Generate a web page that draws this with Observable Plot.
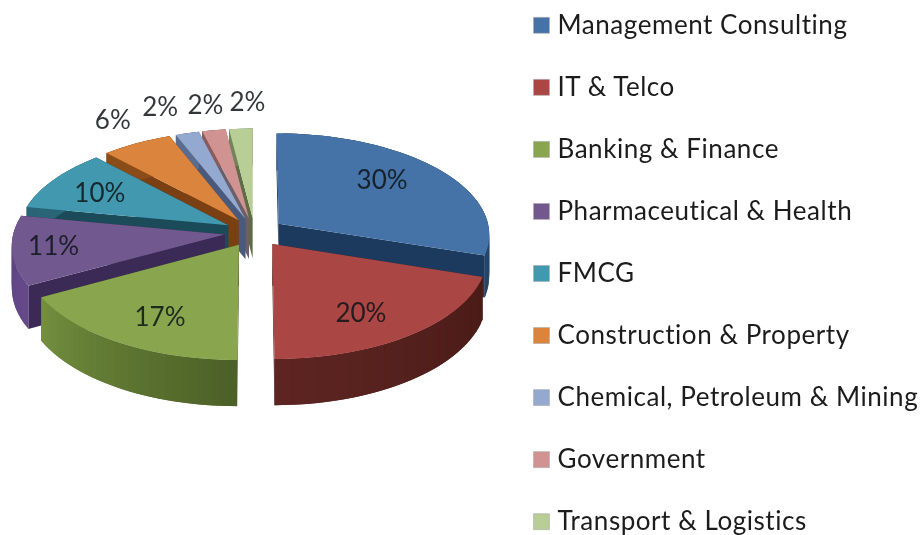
<!DOCTYPE html>
<html>
<head>
<meta charset="utf-8">
<script src="https://cdn.jsdelivr.net/npm/d3@7"></script>
<script src="https://cdn.jsdelivr.net/npm/@observablehq/plot@0.6"></script>
<style>
html,body{margin:0;padding:0;background:#fff;}
svg{display:block;filter:blur(0.45px);}
.legend-name text{letter-spacing:0.55px;}
</style>
</head>
<body>
<div id="chart"></div>
<script>
const categories = ["Management Consulting","IT & Telco","Banking & Finance","Pharmaceutical & Health","FMCG","Construction & Property","Chemical, Petroleum & Mining","Government","Transport & Logistics"];
const shares = [30,20,17,11,10,6,2,2,2];
const topColors = ["#4572a7","#aa4643","#89a54e","#71588f","#4198af","#db843d","#93a9cf","#d19392","#b9cd96"];
const cutColors = ["#1b3a5e","#5a201e","#46582a","#3a2a55","#1b4a58","#7a3f12","#4a5a7c","#6c5f68","#5f6b42"];
const rimFrom = ["#2b4f78","#4a1b17","#4c6027","#65498a","#2a6577","#8a4c18","#5a6c90","#8a5a5a","#72855a"];
const rimTo   = ["#24456b","#5e2522","#74903f","#5c427e","#2a6577","#8a4c18","#5a6c90","#8a5a5a","#72855a"];
const labelAngle = [49.9,148.1,207.8,261.6,297.5,328.8,340.1,349.5,358.5];
const labelReach = [0.833,0.883,0.885,0.949,0.859,1.458,1.5,1.46,1.476];
const paintOrder = [8,7,6,5,4,3,2,0,1];

// pseudo-3D view of the pie, in pixels of the picture
const view = {cx:254, cy:231.7, rx:211, ry:101, persp:0.1, depth:41, explode:0.143};
const project = (X, Y, h = 0) => {
  const s = 1 / (1 - view.persp * Y);
  return [view.cx + view.rx * X * s, view.cy + view.ry * Y * s + view.depth * h * s];
};

const total = d3.sum(shares);
const cum = d3.cumsum(shares);
const slices = shares.map((v, i) => {
  const a0 = (cum[i] - v) / total * 2 * Math.PI;
  const a1 = cum[i] / total * 2 * Math.PI;
  const mid = (a0 + a1) / 2;
  return {i, a0, a1, mid, ox: Math.sin(mid) * view.explode, oy: -Math.cos(mid) * view.explode};
});

const polys = [];
let pid = 0;
const addPoly = (pts, fill) => {
  const id = pid++;
  pts.forEach(([x, y]) => polys.push({id, x, y, fill}));
};
for (const k of paintOrder) {
  const s = slices[k];
  const pt = (a, h) => project(s.ox + Math.sin(a), s.oy - Math.cos(a), h);
  const apex = h => project(s.ox, s.oy, h);
  addPoly([apex(0), pt(s.a1, 0), pt(s.a1, 1), apex(1)], cutColors[k]);
  addPoly([apex(0), pt(s.a0, 0), pt(s.a0, 1), apex(1)], cutColors[k]);
  const n = Math.max(2, Math.ceil((s.a1 - s.a0) / (Math.PI / 90)));
  const rimColor = d3.interpolateRgb(rimFrom[k], rimTo[k]);
  for (let j = 0; j < n; j++) {
    // each facet runs on under the next one, so no seams show between them
    const u = s.a0 + (s.a1 - s.a0) * j / n;
    const w = s.a0 + (s.a1 - s.a0) * Math.min(n, j + 2) / n;
    addPoly([pt(u, 0), pt(w, 0), pt(w, 1), pt(u, 1)], rimColor(j / n));
  }
  const top = [apex(0)];
  for (let j = 0; j <= n; j++) top.push(pt(s.a0 + (s.a1 - s.a0) * j / n, 0));
  addPoly(top, topColors[k]);
}

const labels = shares.map((v, i) => {
  const a = labelAngle[i] * Math.PI / 180;
  const [x, y] = project(Math.sin(a) * labelReach[i], -Math.cos(a) * labelReach[i]);
  return {x, y, text: v + "%"};
});

const legendY = i => 24.8 + 62.05 * i;
const legend = categories.map((name, i) => ({name, i, y: legendY(i), fill: topColors[i]}));

const fontFamily = "Lato, Carlito, sans-serif";
const plot = Plot.plot({
  width: 922, height: 535,
  margin: 0,
  x: {domain: [0, 922], range: [0, 922], axis: null},
  y: {domain: [0, 535], range: [0, 535], axis: null},
  color: {type: "identity"},
  style: {background: "#fff", fontFamily},
  marks: [
    Plot.line(polys, {x: "x", y: "y", z: "id", fill: "fill", stroke: "none", curve: "linear-closed"}),
    Plot.text(labels, {x: "x", y: "y", text: "text", fontSize: 26, fill: "#0d1418", fillOpacity: 0.85, fontFamily}),
    Plot.dot(legend, {x: () => 541, y: "y", symbol: "square", r: 9, fill: "fill", stroke: "#a9a9a9", strokeWidth: 0.6}),
    Plot.text(legend, {x: () => 557, y: "y", text: "name", textAnchor: "start", fontSize: 26, fill: "#1c1c1c", fontFamily, className: "legend-name"})
  ]
});
document.getElementById("chart").appendChild(plot);
</script>
</body>
</html>
